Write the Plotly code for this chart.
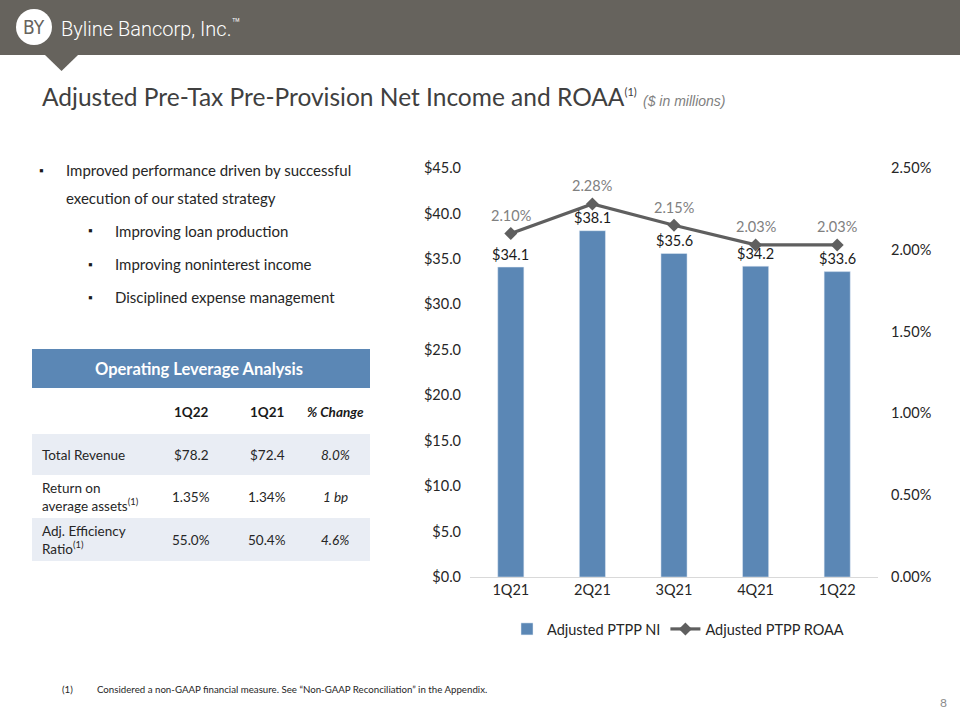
import plotly.graph_objects as go

# ---------------- data ----------------
quarters = ["1Q21", "2Q21", "3Q21", "4Q21", "1Q22"]
ptpp_ni = [34.1, 38.1, 35.6, 34.2, 33.6]
ptpp_roaa = [0.0210, 0.0228, 0.0215, 0.0203, 0.0203]

table_cols = ["1Q22", "1Q21", "% Change"]
table_rows = ["Total Revenue", "Return on<br>average assets<sup>(1)</sup>", "Adj. Efficiency<br>Ratio<sup>(1)</sup>"]
table_1q22 = ["$78.2", "1.35%", "55.0%"]
table_1q21 = ["$72.4", "1.34%", "50.4%"]
table_chg = ["8.0%", "1 bp", "4.6%"]

bullets = ["Improved performance driven by successful", "execution of our stated strategy"]
sub_bullets = ["Improving loan production", "Improving noninterest income", "Disciplined expense management"]

W, H = 960, 720
def px(x): return x / W
def py(y): return 1 - y / H

BAR_C = "#5b87b5"
LINE_C = "#5f5f5f"
HDR_C = "#66635d"
FONT = "Lato"

fig = go.Figure()
fig.add_trace(go.Bar(
    x=quarters, y=ptpp_ni, name="Adjusted PTPP NI",
    marker_color=BAR_C, width=0.32,
))
fig.add_trace(go.Scatter(
    x=quarters, y=ptpp_roaa, name="Adjusted PTPP ROAA", yaxis="y2",
    mode="lines+markers",
    line=dict(color=LINE_C, width=3.2),
    marker=dict(symbol="diamond", size=10, color=LINE_C),
))

shapes = []
ann = []

# data labels (positioned through the axes)
for q, v in zip(quarters, ptpp_ni):
    ann.append(dict(text=f"${v:.1f}", x=q, y=v, xref="x", yref="y", yshift=13, showarrow=False,
                    font=dict(family=FONT, size=14.5, color="#1a1a1a"), xanchor="center", yanchor="middle"))
for q, v in zip(quarters, ptpp_roaa):
    ann.append(dict(text=f"{v*100:.2f}%", x=q, y=v, xref="x", yref="y2", yshift=18, showarrow=False,
                    font=dict(family=FONT, size=14.5, color="#808080"), xanchor="center", yanchor="middle"))

# header bar
shapes.append(dict(type="rect", xref="paper", yref="paper", x0=0, x1=1, y0=py(55), y1=1,
                   fillcolor=HDR_C, line_width=0, layer="below"))
shapes.append(dict(type="path", xref="paper", yref="paper",
                   path=f"M {px(45)},{py(55)} L {px(78)},{py(55)} L {px(61.5)},{py(71)} Z",
                   fillcolor=HDR_C, line_width=0))
shapes.append(dict(type="circle", xref="paper", yref="paper", x0=px(16), x1=px(52), y0=py(45), y1=py(9),
                   fillcolor="white", line_width=0))
ann.append(dict(text="BY", x=px(34), y=py(27), xref="paper", yref="paper", showarrow=False,
                font=dict(family="DejaVu Sans Condensed", size=19, color=HDR_C), xanchor="center", yanchor="middle"))
ann.append(dict(text="Byline Bancorp, Inc.<sup>™</sup>", x=px(59), y=py(28), xref="paper", yref="paper", showarrow=False,
                font=dict(family="Roboto", size=20, color="white", weight=300), xanchor="left", yanchor="middle"))

# title
ann.append(dict(text="Adjusted Pre-Tax Pre-Provision Net Income and ROAA"
                     "<sup><span style='font-size:11px'>(1)</span></sup> "
                     "<span style='font-family:Liberation Sans;font-size:14px;color:#7f7f7f'><i>($ in millions)</i></span>",
                x=px(40), y=py(97), xref="paper", yref="paper", showarrow=False,
                font=dict(family=FONT, size=24.5, color="#404040"), xanchor="left", yanchor="middle"))

# bullets
ann.append(dict(text="▪", x=px(37), y=py(170), xref="paper", yref="paper", showarrow=False,
                font=dict(family=FONT, size=12, color="#1a1a1a"), xanchor="left", yanchor="middle"))
for t, y in zip(bullets, [170, 198]):
    ann.append(dict(text=t, x=px(64), y=py(y), xref="paper", yref="paper", showarrow=False,
                    font=dict(family=FONT, size=15, color="#262626"), xanchor="left", yanchor="middle"))
for t, y in zip(sub_bullets, [231, 264, 297]):
    ann.append(dict(text="▪", x=px(86), y=py(y), xref="paper", yref="paper", showarrow=False,
                    font=dict(family=FONT, size=12, color="#1a1a1a"), xanchor="left", yanchor="middle"))
    ann.append(dict(text=t, x=px(113), y=py(y), xref="paper", yref="paper", showarrow=False,
                    font=dict(family=FONT, size=15, color="#262626"), xanchor="left", yanchor="middle"))

# table
TX0, TX1 = 32, 370
shapes.append(dict(type="rect", xref="paper", yref="paper", x0=px(TX0), x1=px(TX1), y0=py(388), y1=py(349),
                   fillcolor=BAR_C, line_width=0))
ann.append(dict(text="<b>Operating Leverage Analysis</b>", x=px(199), y=py(369), xref="paper", yref="paper",
                showarrow=False, font=dict(family=FONT, size=16.5, color="white"), xanchor="center", yanchor="middle"))
col_x = [191, 267, 335]
for c, xx in zip(table_cols, col_x):
    txt = f"<b><i>{c}</i></b>" if c.startswith("%") else f"<b>{c}</b>"
    ann.append(dict(text=txt, x=px(xx), y=py(412), xref="paper", yref="paper", showarrow=False,
                    font=dict(family=FONT, size=13.5, color="#1a1a1a"), xanchor="center", yanchor="middle"))
row_bounds = [(434, 475), (476, 517), (518, 561)]
row_fill = ["#e9edf4", None, "#e9edf4"]
for i, ((y0, y1), f) in enumerate(zip(row_bounds, row_fill)):
    if f:
        shapes.append(dict(type="rect", xref="paper", yref="paper", x0=px(TX0), x1=px(TX1), y0=py(y1), y1=py(y0),
                           fillcolor=f, line_width=0, layer="below"))
    yc = (y0 + y1) / 2
    ann.append(dict(text=table_rows[i], x=px(40), y=py(yc), xref="paper", yref="paper", showarrow=False,
                    align="left", font=dict(family=FONT, size=13.5, color="#262626"), xanchor="left", yanchor="middle"))
    for v, xx, it in zip([table_1q22[i], table_1q21[i], table_chg[i]], col_x, [False, False, True]):
        ann.append(dict(text=f"<i>{v}</i>" if it else v, x=px(xx), y=py(yc), xref="paper", yref="paper",
                        showarrow=False, font=dict(family=FONT, size=13.5, color="#262626"),
                        xanchor="center", yanchor="middle"))

# footnote & page number
ann.append(dict(text="(1)", x=px(60), y=py(689), xref="paper", yref="paper", showarrow=False,
                font=dict(family=FONT, size=9.7, color="#262626"), xanchor="left", yanchor="middle"))
ann.append(dict(text="Considered a non-GAAP financial measure. See “Non-GAAP Reconciliation” in the Appendix.",
                x=px(95), y=py(689), xref="paper", yref="paper", showarrow=False,
                font=dict(family=FONT, size=9.7, color="#262626"), xanchor="left", yanchor="middle"))
ann.append(dict(text="8", x=px(949), y=py(702), xref="paper", yref="paper", showarrow=False,
                font=dict(family=FONT, size=12, color="#8c8c8c"), xanchor="right", yanchor="middle"))

fig.update_layout(
    width=W, height=H, margin=dict(l=0, r=0, t=0, b=0, pad=0, autoexpand=False),
    paper_bgcolor="white", plot_bgcolor="white",
    font=dict(family=FONT, size=14, color="#262626"),
    xaxis=dict(domain=[px(470), px(878)], showgrid=False, showline=True, linecolor="#d9d9d9",
               ticks="", tickfont=dict(size=14.5, color="#262626"), anchor="y", automargin=False),
    yaxis=dict(domain=[py(577), py(168)], range=[0, 45], dtick=5, tickprefix="$", tickformat=".1f",
               showgrid=False, zeroline=False, ticks="", tickfont=dict(size=14.5, color="#262626"),
               ticklabelstandoff=8, automargin=False),
    yaxis2=dict(overlaying="y", side="right", range=[0, 0.025], dtick=0.005, tickformat=".2%",
                showgrid=False, zeroline=False, ticks="", tickfont=dict(size=14.5, color="#262626"),
                ticklabelstandoff=12, automargin=False),
    legend=dict(orientation="h", x=px(678), y=py(629), xanchor="center", yanchor="middle",
                font=dict(size=14.5, color="#262626"), itemwidth=30, traceorder="normal"),
    shapes=shapes, annotations=ann, bargap=0.68,
)

fig.write_html(
    "out.html", config={"displayModeBar": False},
    post_script=("document.documentElement.style.margin='0';document.documentElement.style.overflow='hidden';"
                 "document.body.style.margin='0';document.body.style.overflow='hidden';"
                 "var gd=document.getElementById('{plot_id}');gd.style.position='fixed';"
                 "gd.style.top='0';gd.style.left='0';"),
)
